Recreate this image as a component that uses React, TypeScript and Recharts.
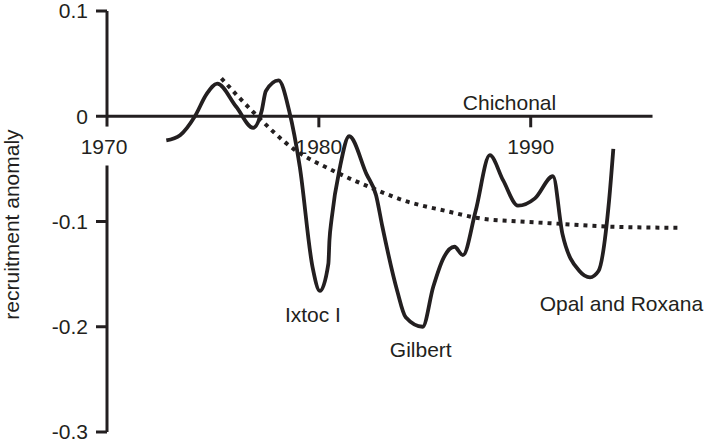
import { LineChart, Line, XAxis, YAxis, ReferenceLine, ReferenceDot } from 'recharts';

const INK = '#231f20';
const FONT = '"Liberation Sans", Arial, Helvetica, sans-serif';

// recruitment anomaly curve (solid)
const solidYears = [
  1972.8, 1973.45, 1974.15, 1974.7, 1975.2, 1976.1, 1976.9, 1977.3, 1977.5, 1978.1,
  1978.6, 1979.1, 1979.7, 1980.05, 1980.45, 1980.5, 1980.6, 1981.0, 1981.43, 1982.25,
  1982.7, 1983.0, 1983.7, 1984.1, 1984.9, 1985.4, 1985.9, 1986.4, 1986.8, 1987.4,
  1988.07, 1988.7, 1989.4, 1990.2, 1991.05, 1991.5, 1992.3, 1992.8, 1993.2, 1993.7,
  1993.9,
];
const solidValues = [
  -0.023, -0.018, 0.0, 0.021, 0.031, 0.009, -0.011, 0.005, 0.024, 0.034,
  0.005, -0.048, -0.143, -0.166, -0.14, -0.118, -0.098, -0.048, -0.019, -0.055,
  -0.075, -0.105, -0.166, -0.191, -0.2, -0.162, -0.134, -0.124, -0.132, -0.09,
  -0.037, -0.061, -0.085, -0.078, -0.057, -0.112, -0.147, -0.153, -0.147, -0.08,
  -0.031,
];

// fitted trend (dotted)
const trendYears = [1975.4, 1976.9, 1978.8, 1980.7, 1982.6, 1984.0, 1986.0, 1987.6, 1989.5, 1991.2, 1993.9, 1997.0];
const trendValues = [0.036, 0.004, -0.031, -0.052, -0.069, -0.08, -0.09, -0.097, -0.1, -0.102, -0.105, -0.106];

const yTicks = [0.1, 0, -0.1, -0.2, -0.3];
const xTicks = [1970, 1980, 1990];
const xAxisEnd = 1995.75;

const eventLabels = ['Ixtoc I', 'Gilbert', 'Opal and Roxana', 'Chichonal'];
const eventYears = [1979.72, 1984.81, 1994.28, 1989.0];
const eventValues = [-0.1957, -0.2283, -0.1853, 0.0061];

const solidData = solidYears.map((year, i) => ({ year, v: solidValues[i] }));
const trendData = trendYears.map((year, i) => ({ year, v: trendValues[i] }));

const textStyle = { fill: INK, fontSize: 21, fontFamily: FONT };

// tick mark lengths, in data units (about 11px each way)
const yTickLen = 0.52; // years
const xTickLen = 0.0105; // anomaly

export default function App() {
  return (
    <div style={{ position: 'absolute', left: 0, top: 0, background: '#fff' }}>
      <LineChart width={708} height={445} margin={{ top: 11, right: 29, bottom: 13, left: 0 }}>
        <XAxis dataKey="year" type="number" domain={[1970, 1997]} hide allowDataOverflow />
        <YAxis
          type="number"
          domain={[-0.3, 0.1]}
          ticks={yTicks}
          interval={0}
          width={107}
          axisLine={false}
          tickLine={false}
          tickSize={11}
          tickMargin={8}
          tick={textStyle}
          tickFormatter={(v: number) => String(v)}
          label={{
            content: ({ viewBox }: any) => {
              const cx = viewBox.x + 19;
              const cy = viewBox.y + viewBox.height / 2 + 3;
              return (
                <text x={cx} y={cy} transform={`rotate(-90 ${cx} ${cy})`} textAnchor="middle" {...textStyle}>
                  recruitment anomaly
                </text>
              );
            },
          }}
        />

        {/* vertical axis, broken under the 1970 label */}
        <ReferenceLine segment={[{ x: 1970, y: 0.1 }, { x: 1970, y: -0.0098 }]} stroke={INK} strokeWidth={3} />
        <ReferenceLine segment={[{ x: 1970, y: -0.0468 }, { x: 1970, y: -0.3 }]} stroke={INK} strokeWidth={3} />
        {/* horizontal axis at zero */}
        <ReferenceLine segment={[{ x: 1970, y: 0 }, { x: xAxisEnd, y: 0 }]} stroke={INK} strokeWidth={3} />

        {/* y tick marks */}
        {yTicks.map((v) => (
          <ReferenceLine
            key={`yt${v}`}
            segment={[{ x: 1970 - yTickLen, y: v }, { x: 1970, y: v }]}
            ifOverflow="visible"
            stroke={INK}
            strokeWidth={3}
          />
        ))}
        {/* x tick marks */}
        {xTicks.slice(1).map((t) => (
          <ReferenceLine
            key={`xt${t}`}
            segment={[{ x: t, y: 0 }, { x: t, y: -xTickLen }]}
            ifOverflow="visible"
            stroke={INK}
            strokeWidth={3}
          />
        ))}

        {xTicks.map((t) => (
          <ReferenceDot
            key={t}
            x={t}
            y={0}
            r={1}
            shape={(p: any) => (
              <text x={p.cx - (t === 1970 ? 3 : 0)} y={p.cy + 38} textAnchor="middle" {...textStyle}>
                {t}
              </text>
            )}
          />
        ))}

        <Line
          data={trendData}
          dataKey="v"
          type="monotone"
          stroke={INK}
          strokeWidth={4}
          strokeDasharray="4 5"
          dot={false}
          isAnimationActive={false}
        />
        <Line
          data={solidData}
          dataKey="v"
          type="monotone"
          stroke={INK}
          strokeWidth={3.8}
          dot={false}
          isAnimationActive={false}
        />

        {eventLabels.map((name, i) => (
          <ReferenceDot
            key={name}
            x={eventYears[i]}
            y={eventValues[i]}
            r={1}
            shape={(p: any) => (
              <text x={p.cx} y={p.cy} textAnchor="middle" {...textStyle}>
                {name}
              </text>
            )}
          />
        ))}
      </LineChart>
    </div>
  );
}
